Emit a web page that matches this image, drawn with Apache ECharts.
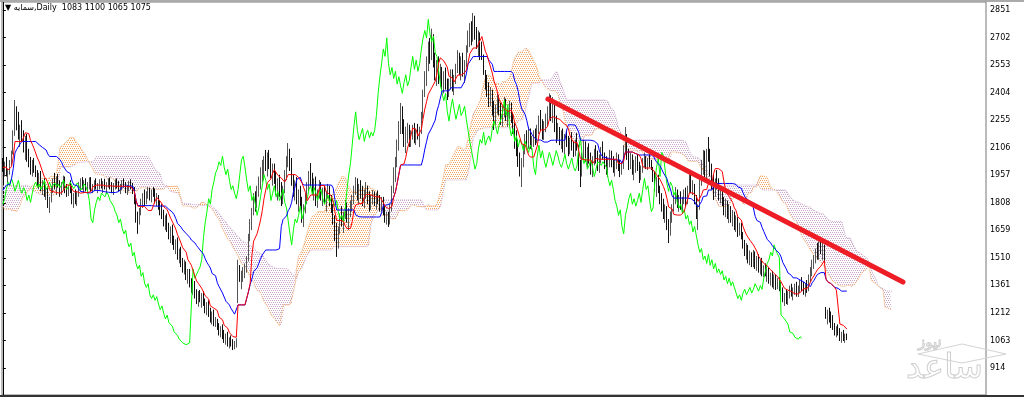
<!DOCTYPE html>
<html><head><meta charset="utf-8">
<script src="https://cdn.jsdelivr.net/npm/echarts@6/dist/echarts.min.js"></script>
<style>html,body{margin:0;padding:0;background:#fff;overflow:hidden}#c{width:1024px;height:398px}</style>
</head><body><div id="c"></div>
<script>
const titleText = '\u25BC \u0633\u0645\u0627\u06CC\u0647,Daily  1083 1100 1065 1075';
const watermarkBig = '\u0633\u0627\u0639\u062F';
const watermarkSmall = '\u0646\u06CC\u0648\u0632';
const yTicks = [914,1063,1212,1361,1510,1659,1808,1957,2106,2255,2404,2553,2702,2851];
// [open, high, low, close] – 77 sessions before the visible window (feed the Ichimoku lines)
const historyBars = [
[2060,2100,2050,2080],[2080,2120,2060,2100],[2100,2115,2055,2070],[2070,2110,2050,2090],[2090,2130,2075,2110],[2110,2120,2045,2060],[2060,2100,2040,2080],[2080,2140,2070,2120],[2120,2135,2080,2100],[2100,2150,2090,2130],
[2130,2140,2070,2090],[2090,2130,2075,2110],[2110,2120,2050,2070],[2070,2115,2055,2100],[2100,2140,2085,2120],[2120,2160,2110,2140],[2140,2150,2085,2100],[2100,2110,2040,2060],[2060,2100,2045,2080],[2080,2090,2025,2040],
[2040,2080,2025,2060],[2060,2070,2005,2020],[2020,2065,2010,2050],[2050,2060,1985,2000],[2000,2045,1990,2030],[2030,2040,1975,1990],[1990,2030,1975,2010],[2010,2020,1945,1960],[1960,1975,1915,1930],[1930,1965,1915,1950],
[1950,1960,1885,1900],[1900,1910,1855,1870],[1870,1905,1855,1890],[1890,1900,1825,1840],[1840,1850,1785,1800],[1800,1815,1755,1770],[1770,1785,1725,1740],[1740,1750,1690,1700],[1700,1715,1665,1680],[1680,1695,1640,1660],
[1660,1705,1650,1690],[1690,1700,1655,1670],[1670,1715,1660,1700],[1700,1735,1690,1720],[1720,1730,1685,1700],[1700,1745,1690,1730],[1730,1740,1695,1710],[1710,1755,1700,1740],[1740,1750,1705,1720],[1720,1765,1710,1750],
[1750,1760,1715,1730],[1730,1775,1720,1760],[1760,1770,1695,1720],[1720,1775,1710,1760],[1760,1805,1750,1790],[1790,1800,1755,1770],[1770,1815,1760,1800],[1800,1835,1790,1820],[1820,1830,1785,1800],[1800,1855,1790,1840],
[1840,1875,1830,1860],[1860,1915,1850,1900],[1900,1955,1890,1940],[1940,1995,1930,1980],[1980,1990,1945,1960],[1960,2015,1950,2000],[2000,2035,1990,2020],[2020,2030,1975,1990],[1990,2045,1980,2030],[2030,2045,1995,2010],
[2010,2020,1955,1970],[1970,2005,1960,1990],[1990,2055,1980,2040],[2040,2050,1995,2010],[2010,2020,1945,1960],[1960,2005,1950,1990],[1990,2035,1980,2020]
];
// [open, high, low, close] – visible daily bars
const bars = [
[2020,2050,1975,1990],[1990,2030,1950,2010],[2010,2056,1950,1960],[1960,1990,1915,1980],[1980,2040,1960,2030],[2030,2090,2010,2080],[2080,2200,2070,2180],[2180,2364,2170,2290],[2290,2330,2200,2230],[2230,2300,2150,2170],
[2170,2230,2110,2200],[2200,2255,2140,2150],[2150,2200,2080,2100],[2100,2170,2040,2130],[2130,2180,2030,2050],[2050,2100,2000,2020],[2020,2056,1960,1990],[1990,2040,1950,2030],[2030,2050,1970,1980],[1980,2010,1947,1960],
[1960,1985,1900,1920],[1920,1970,1880,1950],[1950,1980,1870,1890],[1890,1930,1850,1910],[1910,1940,1840,1860],[1860,1900,1823,1870],[1870,1890,1780,1800],[1800,1840,1753,1830],[1830,1900,1810,1880],[1880,1940,1860,1920],
[1920,1970,1880,1900],[1900,1950,1850,1940],[1940,1965,1890,1910],[1910,1930,1840,1870],[1870,1920,1850,1900],[1900,1955,1880,1930],[1930,1950,1860,1880],[1880,1910,1840,1860],[1860,1900,1845,1890],[1890,1930,1860,1870],
[1870,1900,1800,1820],[1820,1860,1780,1850],[1850,1880,1800,1810],[1810,1870,1790,1860],[1860,1920,1840,1900],[1900,1940,1870,1920],[1920,1947,1880,1890],[1890,1930,1860,1910],[1910,1940,1870,1880],[1880,1920,1860,1900],
[1900,1945,1880,1930],[1930,1947,1870,1880],[1880,1910,1860,1895],[1895,1930,1870,1920],[1920,1940,1880,1890],[1890,1915,1860,1900],[1900,1935,1880,1915],[1915,1940,1885,1895],[1895,1925,1860,1910],[1910,1938,1880,1890],
[1890,1920,1855,1905],[1905,1940,1890,1930],[1930,1945,1880,1895],[1895,1920,1860,1880],[1880,1915,1850,1900],[1900,1935,1880,1920],[1920,1940,1885,1900],[1900,1925,1870,1885],[1885,1910,1855,1895],[1895,1930,1875,1915],
[1915,1940,1890,1900],[1900,1920,1860,1875],[1875,1905,1850,1890],[1890,1925,1870,1910],[1910,1935,1880,1895],[1895,1915,1855,1870],[1870,1893,1800,1820],[1820,1850,1700,1720],[1720,1760,1640,1700],[1700,1780,1690,1770],
[1770,1830,1740,1810],[1810,1860,1780,1840],[1840,1880,1790,1820],[1820,1870,1800,1860],[1860,1893,1830,1870],[1870,1890,1820,1840],[1840,1880,1810,1865],[1865,1893,1840,1850],[1850,1885,1805,1820],[1820,1860,1790,1830],
[1830,1850,1770,1790],[1790,1820,1740,1760],[1760,1800,1720,1740],[1740,1770,1680,1700],[1700,1740,1660,1720],[1720,1750,1650,1670],[1670,1700,1610,1640],[1640,1680,1590,1660],[1660,1690,1580,1600],[1600,1630,1553,1570],
[1570,1610,1530,1590],[1590,1620,1500,1520],[1520,1560,1480,1540],[1540,1570,1460,1480],[1480,1510,1430,1450],[1450,1500,1420,1470],[1470,1490,1390,1410],[1410,1450,1370,1430],[1430,1450,1350,1370],[1370,1400,1320,1350],
[1350,1390,1310,1370],[1370,1385,1290,1310],[1310,1340,1260,1290],[1290,1330,1245,1310],[1310,1336,1270,1280],[1280,1320,1240,1300],[1300,1330,1250,1260],[1260,1290,1210,1230],[1230,1270,1200,1250],[1250,1280,1190,1210],
[1210,1240,1160,1180],[1180,1220,1150,1200],[1200,1230,1140,1160],[1160,1190,1136,1170],[1170,1180,1120,1140],[1140,1157,1090,1110],[1110,1140,1080,1120],[1120,1150,1070,1090],[1090,1120,1050,1070],[1070,1100,1040,1080],
[1080,1110,1030,1050],[1050,1080,1020,1060],[1060,1090,1030,1040],[1040,1070,1011,1030],[1030,1060,1015,1050],[1050,1075,1025,1060],[1270,1500,1265,1450],[1450,1471,1380,1400],[1400,1440,1340,1420],[1420,1460,1380,1440],
[1440,1480,1400,1460],[1460,1520,1430,1500],[1500,1640,1490,1620],[1620,1720,1600,1700],[1700,1780,1660,1760],[1760,1860,1740,1830],[1830,1870,1760,1800],[1800,1900,1780,1880],[1880,1950,1840,1920],[1920,2000,1880,1970],
[1970,2040,1920,1990],[1990,2060,1930,2030],[2030,2094,1980,2010],[2010,2080,1950,2060],[2060,2094,1990,2000],[2000,2050,1940,1960],[1960,2020,1900,1990],[1990,2020,1910,1930],[1930,1980,1850,1880],[1880,1940,1820,1900],
[1900,1960,1840,1860],[1860,1920,1790,1830],[1830,1900,1800,1880],[1880,1985,1860,1960],[1960,2060,1930,2040],[2040,2131,2000,2060],[2060,2100,1980,2000],[2000,2050,1900,1930],[1930,1960,1840,1870],[1870,1930,1820,1900],
[1900,1947,1800,1820],[1820,1880,1760,1850],[1850,1900,1780,1800],[1800,1840,1700,1740],[1740,1800,1677,1780],[1780,1860,1750,1840],[1840,1920,1800,1900],[1900,1980,1870,1960],[1960,2023,1900,1930],[1930,1970,1850,1880],
[1880,1940,1820,1910],[1910,1950,1790,1820],[1820,1880,1780,1860],[1860,1931,1830,1900],[1900,1920,1820,1840],[1840,1890,1790,1870],[1870,1900,1800,1820],[1820,1870,1760,1850],[1850,1910,1830,1880],[1880,1900,1790,1810],
[1810,1850,1753,1780],[1780,1800,1690,1710],[1710,1740,1600,1640],[1640,1700,1515,1580],[1580,1680,1560,1660],[1660,1750,1640,1720],[1720,1790,1680,1700],[1700,1760,1645,1740],[1740,1823,1720,1790],[1790,1810,1700,1720],
[1720,1780,1660,1760],[1760,1820,1730,1800],[1800,1850,1760,1830],[1830,1900,1800,1880],[1880,1947,1850,1900],[1900,1940,1820,1850],[1850,1910,1800,1890],[1890,1930,1830,1860],[1860,1900,1790,1820],[1820,1880,1780,1860],
[1860,1920,1830,1880],[1880,1900,1800,1830],[1830,1870,1760,1800],[1800,1850,1770,1830],[1830,1877,1800,1850],[1850,1870,1790,1810],[1810,1860,1770,1840],[1840,1875,1800,1820],[1820,1850,1760,1790],[1790,1840,1760,1820],
[1820,1840,1740,1760],[1760,1790,1700,1720],[1720,1760,1690,1740],[1740,1760,1677,1700],[1700,1800,1690,1780],[1780,1900,1760,1880],[1880,2000,1860,1960],[1960,2056,1920,2020],[2020,2150,2000,2120],[2120,2250,2090,2220],
[2220,2348,2180,2300],[2300,2330,2180,2200],[2200,2260,2110,2150],[2150,2220,2077,2180],[2180,2240,2130,2210],[2210,2230,2110,2140],[2140,2200,2110,2180],[2180,2230,2150,2200],[2200,2240,2130,2160],[2160,2210,2120,2190],
[2190,2235,2150,2170],[2170,2220,2110,2200],[2200,2300,2180,2280],[2280,2420,2260,2400],[2400,2520,2380,2490],[2490,2600,2440,2560],[2560,2680,2520,2640],[2640,2700,2560,2600],[2600,2750,2580,2700],[2700,2720,2540,2560],
[2560,2620,2470,2500],[2500,2580,2440,2540],[2540,2600,2450,2480],[2480,2560,2434,2520],[2520,2543,2420,2450],[2450,2520,2400,2490],[2490,2540,2420,2440],[2440,2480,2364,2400],[2400,2480,2380,2460],[2460,2530,2420,2500],
[2500,2530,2410,2440],[2440,2500,2390,2470],[2470,2560,2450,2540],[2540,2634,2510,2600],[2600,2620,2500,2530],[2530,2600,2470,2580],[2580,2620,2490,2520],[2520,2580,2456,2560],[2560,2660,2540,2640],[2640,2740,2620,2700],
[2700,2780,2650,2740],[2740,2790,2660,2700],[2700,2835,2680,2800],[2800,2820,2690,2720],[2720,2759,2640,2680],[2680,2740,2600,2710],[2710,2730,2580,2620],[2620,2680,2580,2600],[2600,2610,2500,2520],[2520,2526,2420,2450],
[2450,2500,2380,2400],[2400,2460,2326,2360],[2360,2434,2330,2400],[2400,2420,2280,2300],[2300,2360,2202,2250],[2250,2340,2230,2320],[2320,2402,2290,2370],[2370,2390,2280,2310],[2310,2350,2230,2260],[2260,2330,2220,2300],
[2300,2380,2270,2340],[2340,2370,2250,2280],[2280,2320,2218,2300],[2300,2360,2260,2330],[2330,2350,2240,2260],[2260,2294,2180,2200],[2200,2240,2100,2140],[2140,2200,2060,2090],[2090,2150,2002,2040],[2040,2080,1950,1990],
[1990,2050,1893,2020],[2020,2120,2000,2100],[2100,2180,2070,2150],[2150,2200,2110,2130],[2130,2218,2100,2190],[2190,2210,2100,2120],[2120,2170,2094,2150],[2150,2200,2110,2170],[2170,2210,2120,2140],[2140,2230,2130,2210],
[2210,2280,2180,2250],[2250,2310,2200,2220],[2220,2260,2150,2180],[2180,2250,2148,2230],[2230,2290,2190,2260],[2260,2330,2220,2300],[2300,2400,2260,2360],[2360,2390,2250,2280],[2280,2380,2240,2340],[2340,2360,2190,2220],
[2220,2280,2131,2170],[2170,2240,2150,2210],[2210,2218,2120,2140],[2140,2200,2100,2170],[2170,2210,2080,2110],[2110,2180,2070,2150],[2150,2200,2110,2130],[2130,2170,2060,2090],[2090,2160,2070,2140],[2140,2190,2090,2110],
[2110,2140,2056,2080],[2080,2150,2060,2120],[2120,2185,2090,2100],[2100,2120,1980,2000],[2000,2040,1893,1960],[1960,2080,1950,2060],[2060,2148,2040,2120],[2120,2140,2030,2050],[2050,2110,2000,2090],[2090,2130,2020,2040],
[2040,2080,1960,2000],[2000,2060,1947,2040],[2040,2100,2010,2080],[2080,2120,2020,2050],[2050,2090,1980,2010],[2010,2070,1970,2050],[2050,2110,2020,2090],[2090,2140,2040,2060],[2060,2080,1990,2020],[2020,2060,1960,2000],
[2000,2050,1947,2030],[2030,2094,2000,2070],[2070,2090,2000,2020],[2020,2060,1970,1990],[1990,2040,1950,2020],[2020,2080,1990,2050],[2050,2070,1980,2000],[2000,2040,1947,1980],[1980,2030,1960,2010],[2010,2120,1990,2100],
[2100,2218,2070,2160],[2160,2180,2040,2060],[2060,2100,1985,2020],[2020,2077,1990,2050],[2050,2070,1960,1990],[1990,2040,1930,2010],[2010,2060,1970,2040],[2040,2070,1980,2000],[2000,2030,1915,1950],[1950,2010,1930,1990],
[1990,2050,1970,2030],[2030,2077,2000,2040],[2040,2060,1990,2010],[2010,2050,1985,2030],[2030,2070,2000,2020],[2020,2040,1985,2000],[2000,2002,1920,1940],[1940,1980,1870,1900],[1900,1950,1840,1930],[1930,1960,1860,1880],
[1880,1900,1800,1820],[1820,1860,1760,1790],[1790,1830,1720,1740],[1740,1800,1700,1770],[1770,1790,1660,1680],[1680,1720,1590,1640],[1640,1760,1630,1740],[1740,1800,1700,1780],[1780,1850,1760,1830],[1830,1893,1800,1860],
[1860,1880,1780,1800],[1800,1850,1760,1830],[1830,1870,1770,1790],[1790,1840,1753,1820],[1820,1880,1800,1860],[1860,1890,1790,1810],[1810,1900,1800,1880],[1880,1970,1860,1940],[1940,1960,1860,1880],[1880,1930,1850,1900],
[1900,1910,1800,1820],[1820,1850,1720,1760],[1760,1800,1661,1780],[1780,1950,1770,1920],[1920,2040,1900,2000],[2000,2094,1960,2050],[2050,2090,1920,1950],[1950,2100,1930,2080],[2080,2164,2030,2060],[2060,2100,1950,1980],
[1980,2020,1880,1910],[1910,1960,1823,1870],[1870,1940,1840,1920],[1920,1985,1880,1900],[1900,1940,1820,1850],[1850,1900,1805,1870],[1870,1880,1790,1810],[1810,1840,1740,1780],[1780,1830,1730,1800],[1800,1820,1720,1750],
[1750,1800,1698,1770],[1770,1790,1700,1720],[1720,1769,1680,1740],[1740,1760,1660,1690],[1690,1740,1650,1710],[1710,1730,1623,1650],[1650,1700,1630,1680],[1680,1700,1610,1630],[1630,1650,1560,1580],[1580,1607,1520,1540],
[1540,1590,1500,1560],[1560,1580,1480,1500],[1500,1550,1470,1520],[1520,1540,1460,1480],[1480,1553,1460,1530],[1530,1545,1450,1470],[1470,1520,1440,1500],[1500,1530,1430,1450],[1450,1500,1420,1480],[1480,1510,1410,1430],
[1430,1470,1406,1450],[1450,1480,1410,1420],[1420,1460,1380,1440],[1440,1455,1370,1390],[1390,1430,1360,1410],[1410,1440,1350,1370],[1370,1420,1340,1400],[1400,1420,1336,1360],[1360,1400,1340,1380],[1380,1406,1330,1350],
[1350,1380,1300,1320],[1320,1350,1270,1290],[1290,1320,1250,1310],[1310,1340,1260,1280],[1280,1330,1255,1320],[1320,1360,1290,1340],[1340,1370,1300,1310],[1310,1350,1280,1330],[1330,1370,1310,1350],[1350,1380,1300,1320],
[1320,1360,1298,1340],[1340,1390,1320,1370],[1370,1406,1330,1350],[1350,1380,1310,1330],[1330,1370,1300,1360],[1360,1390,1320,1340],[1340,1420,1330,1400],[1400,1460,1380,1440],[1440,1500,1410,1480],[1480,1525,1450,1500],
[1500,1560,1480,1540],[1540,1590,1500,1520],[1520,1600,1500,1580],[1580,1610,1530,1550],[1550,1590,1500,1560],[1560,1580,1487,1510],[1240,1244,1180,1200],[1200,1230,1150,1210],[1210,1240,1160,1180],[1180,1220,1130,1170],
[1170,1200,1120,1150],[1150,1157,1090,1110],[1110,1140,1080,1120],[1120,1150,1090,1100],[1100,1130,1060,1080],[1080,1110,1050,1090],[1090,1120,1060,1070],[1070,1100,1050,1083],[1083,1100,1065,1075]
];
// hand-drawn trend line: [bar slot, price]
const trendLine = [[315.2, 2369], [520.5, 1379]];
const tenkanLen = 9, kijunLen = 26, spanBLen = 52, ichiShift = 26;
const slotCount = 569;

const all = historyBars.concat(bars);
const H = historyBars.length;
function mid(k, n) {
  if (k - n + 1 < 0 || k >= all.length) return null;
  let hi = -Infinity, lo = Infinity;
  for (let j = k - n + 1; j <= k; j++) { hi = Math.max(hi, all[j][1]); lo = Math.min(lo, all[j][2]); }
  return (hi + lo) / 2;
}
const cats = Array.from({length: slotCount}, (_, i) => i);
const candle = bars.map(b => [b[0], b[3], b[2], b[1]]);
const tenkan = [], kijun = [], spanA = [], spanB = [], chikou = [], base = [], up = [], down = [];
for (let t = 0; t < slotCount; t++) {
  const k = t + H;
  tenkan.push(t < bars.length ? mid(k, tenkanLen) : null);
  kijun.push(t < bars.length ? mid(k, kijunLen) : null);
  const s = k - ichiShift;
  let a = null, b = null;
  if (s < all.length) {
    const tt = mid(s, tenkanLen), kk = mid(s, kijunLen);
    if (tt != null && kk != null) a = (tt + kk) / 2;
    b = mid(s, spanBLen);
  }
  spanA.push(a); spanB.push(b);
  if (a != null && b != null) {
    base.push(Math.min(a, b)); up.push(a > b ? a - b : 0); down.push(b > a ? b - a : 0);
  } else { base.push(null); up.push(null); down.push(null); }
  chikou.push(t + ichiShift < bars.length ? bars[t + ichiShift][3] : null);
}
function hatch(color) {
  const c = document.createElement('canvas'); c.width = 4; c.height = 4;
  const g = c.getContext('2d'); g.fillStyle = color;
  g.fillRect(0, 0, 1, 1); g.fillRect(2, 0, 1, 1); g.fillRect(1, 2, 1, 1); g.fillRect(3, 2, 1, 1);
  return c;
}
const chart = echarts.init(document.getElementById('c'), null, {renderer: 'canvas'});
const lineBase = {type: 'line', symbol: 'none', connectNulls: false, silent: true};
chart.setOption({
  animation: false,
  backgroundColor: '#fff',
  grid: {left: 2, right: 38, top: 2, bottom: 3, show: true, borderColor: '#777', borderWidth: 1},
  xAxis: [
    {type: 'category', data: cats, boundaryGap: true, axisLine: {show: false}, axisTick: {show: false}, axisLabel: {show: false}, splitLine: {show: false}},
    {type: 'value', min: -0.5, max: slotCount - 0.5, show: false}
  ],
  yAxis: {
    type: 'value', position: 'right', min: 767.9, max: 2894.3, scale: true,
    splitLine: {show: false},
    axisLine: {show: true, lineStyle: {color: '#000', width: 1}},
    axisTick: {show: true, customValues: yTicks, length: 3, lineStyle: {color: '#000'}},
    axisLabel: {customValues: yTicks, margin: 4, fontSize: 8, fontFamily: 'DejaVu Sans', color: '#000', formatter: v => String(Math.round(v))}
  },
  graphic: [
    {type: 'text', left: 5, top: 4, style: {text: titleText, font: '8px DejaVu Sans', fill: '#000'}, z: 100},
    {type: 'rect', shape: {x: 0, y: 395, width: 1024, height: 2}, style: {fill: '#333'}, z: 100},
    {type: 'rect', shape: {x: 0, y: 0, width: 1024, height: 2}, style: {fill: '#aaa'}, z: 100},
    {type: 'polygon', shape: {points: [[918, 354], [962, 344], [1006, 354], [962, 363]]}, style: {fill: 'none', stroke: '#d4d4d4', lineWidth: 1}, z: 90},
    {type: 'text', x: 918, y: 336, style: {text: watermarkSmall, font: '15px "DejaVu Sans"', fill: 'rgba(255,255,255,0)', stroke: '#cfcfcf', lineWidth: 1}, z: 90},
    {type: 'text', x: 906, y: 352, style: {text: watermarkBig, font: '34px "DejaVu Sans"', fill: 'rgba(255,255,255,0)', stroke: '#cfcfcf', lineWidth: 1}, z: 90}
  ],
  series: [
    Object.assign({}, lineBase, {name: 'base', data: base, stack: 'cloud', lineStyle: {opacity: 0}, z: 1}),
    Object.assign({}, lineBase, {name: 'upCloud', data: up, stack: 'cloud', lineStyle: {opacity: 0}, areaStyle: {color: {image: hatch('#F4A460'), repeat: 'repeat'}, opacity: 1}, z: 1}),
    Object.assign({}, lineBase, {name: 'downCloud', data: down, stack: 'cloud', lineStyle: {opacity: 0}, areaStyle: {color: {image: hatch('#C9A6C9'), repeat: 'repeat'}, opacity: 1}, z: 1}),
    Object.assign({}, lineBase, {name: 'Senkou A', data: spanA, lineStyle: {color: '#F4A460', width: 1, type: 'dotted'}, z: 2}),
    Object.assign({}, lineBase, {name: 'Senkou B', data: spanB, lineStyle: {color: '#CBA8CB', width: 1, type: 'dotted'}, z: 2}),
    {type: 'candlestick', name: 'price', data: candle, barWidth: 1, silent: true,
      itemStyle: {color: '#555', color0: '#111', borderColor: '#555', borderColor0: '#111', borderWidth: 1}, z: 3},
    Object.assign({}, lineBase, {name: 'Chikou', data: chikou, lineStyle: {color: '#00FF00', width: 1}, z: 4}),
    Object.assign({}, lineBase, {name: 'Kijun', data: kijun, lineStyle: {color: '#0000FF', width: 1}, z: 5}),
    Object.assign({}, lineBase, {name: 'Tenkan', data: tenkan, lineStyle: {color: '#FF0000', width: 1}, z: 6}),
    Object.assign({}, lineBase, {name: 'trend', xAxisIndex: 1, data: trendLine, lineStyle: {color: '#EE1C25', width: 5, cap: 'round'}, z: 10})
  ]
});
</script>
</body></html>
